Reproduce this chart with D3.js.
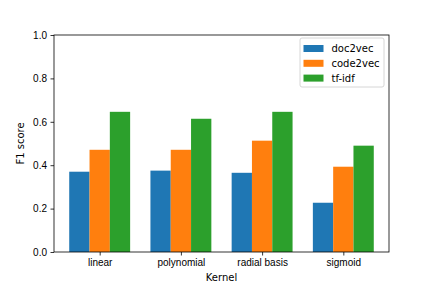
<!DOCTYPE html>
<html>
<head>
<meta charset="utf-8">
<script src="https://cdn.jsdelivr.net/npm/d3@7"></script>
<style>
  body { margin: 0; background: #fff; }
  svg { font-family: "DejaVu Sans", sans-serif; }
  .axis path, .axis line { stroke: #000; stroke-width: 0.8; }
  .axis text { font-size: 10px; fill: #000; }
</style>
</head>
<body>
<div id="chart"></div>
<script>
var WIDTH = 432;
var HEIGHT = 288;
var LEFT = 54, RIGHT = 389, TOP = 35, BOTTOM = 252;

var kernels = ["linear", "polynomial", "radial basis", "sigmoid"];
var seriesNames = ["doc2vec", "code2vec", "tf-idf"];
var colors = ["#1f77b4", "#ff7f0e", "#2ca02c"];
var doc2vec = [0.370, 0.375, 0.365, 0.227];
var code2vec = [0.471, 0.471, 0.513, 0.393];
var tfidf = [0.646, 0.614, 0.646, 0.490];
var yTicks = [0.0, 0.2, 0.4, 0.6, 0.8, 1.0];

var series = [doc2vec, code2vec, tfidf];
var BAR_WIDTH = 0.25;

var svg = d3.select("#chart").append("svg")
  .attr("width", WIDTH)
  .attr("height", HEIGHT);

svg.append("rect")
  .attr("width", WIDTH)
  .attr("height", HEIGHT)
  .attr("fill", "#fff");

// same limits matplotlib picks: bars span -0.375..3.375 plus 5% margin
var x = d3.scaleLinear()
  .domain([-0.5625, 3.5625])
  .range([LEFT, RIGHT]);
var y = d3.scaleLinear()
  .domain([0, 1])
  .range([BOTTOM, TOP]);

// bars
series.forEach(function(values, s) {
  svg.append("g").selectAll("rect")
    .data(values)
    .enter()
    .append("rect")
    .attr("x", function(d, i) {
      return x(i + (s - 1) * BAR_WIDTH - BAR_WIDTH / 2);
    })
    .attr("width", x(BAR_WIDTH) - x(0))
    .attr("y", function(d) { return y(d); })
    .attr("height", function(d) { return y(0) - y(d); })
    .attr("fill", colors[s]);
});

// axes
var xAxis = svg.append("g")
  .attr("class", "axis")
  .attr("transform", "translate(0," + BOTTOM + ")")
  .call(d3.axisBottom(x)
    .tickValues(d3.range(kernels.length))
    .tickFormat(function(d) { return kernels[d]; })
    .tickSize(3.5)
    .tickPadding(3.5));
xAxis.select(".domain").remove();

var yAxis = svg.append("g")
  .attr("class", "axis")
  .attr("transform", "translate(" + LEFT + ",0)")
  .call(d3.axisLeft(y)
    .tickValues(yTicks)
    .tickFormat(d3.format(".1f"))
    .tickSize(3.5)
    .tickPadding(3.5));
yAxis.select(".domain").remove();

// spines
svg.append("rect")
  .attr("x", LEFT)
  .attr("y", TOP)
  .attr("width", RIGHT - LEFT)
  .attr("height", BOTTOM - TOP)
  .attr("fill", "none")
  .attr("stroke", "#000")
  .attr("stroke-width", 0.8);

// axis labels
svg.append("text")
  .attr("x", (LEFT + RIGHT) / 2)
  .attr("y", 281)
  .attr("text-anchor", "middle")
  .attr("font-size", 10)
  .text("Kernel");
svg.append("text")
  .attr("transform", "translate(24," + (TOP + BOTTOM) / 2 + ") rotate(-90)")
  .attr("text-anchor", "middle")
  .attr("font-size", 10)
  .text("F1 score");

// legend
var legend = svg.append("g").attr("transform", "translate(300,38)");
legend.append("rect")
  .attr("width", 84)
  .attr("height", 49)
  .attr("rx", 2)
  .attr("fill", "#fff")
  .attr("fill-opacity", 0.8)
  .attr("stroke", "#ccc")
  .attr("stroke-width", 0.8);
seriesNames.forEach(function(name, i) {
  legend.append("rect")
    .attr("x", 3.5)
    .attr("y", 7 + i * 14.8)
    .attr("width", 20)
    .attr("height", 7)
    .attr("fill", colors[i]);
  legend.append("text")
    .attr("x", 31.5)
    .attr("y", 10.5 + i * 14.8)
    .attr("dy", "0.35em")
    .attr("font-size", 10)
    .text(name);
});
</script>
</body>
</html>
